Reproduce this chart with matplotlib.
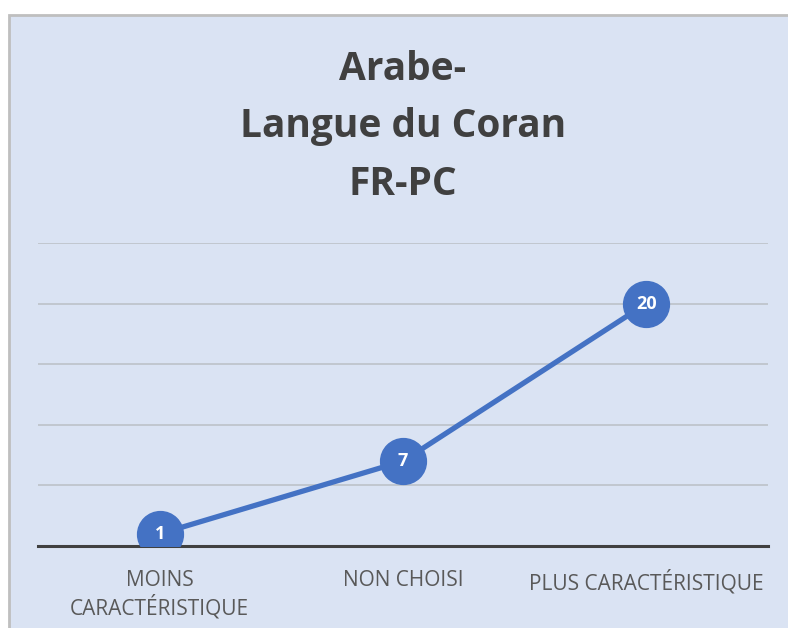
import matplotlib.pyplot as plt
from matplotlib.patches import Rectangle

# Data
categories = ['MOINS\nCARACTÉRISTIQUE', 'NON CHOISI', 'PLUS CARACTÉRISTIQUE']
values = [1, 7, 20]
title = 'Arabe-\nLangue du Coran\nFR-PC'

bg = '#DAE3F3'
blue = '#4472C4'
text_grey = '#595959'

plt.rcParams['font.family'] = ['Open Sans', 'DejaVu Sans']

fig = plt.figure(figsize=(7.88, 6.28), dpi=100)
fig.patch.set_facecolor('white')

# chart area background with a grey frame
fig.patches.append(Rectangle((9 / 788, -0.05), 1.0, 1.05 - 15 / 628,
                             transform=fig.transFigure, facecolor=bg,
                             edgecolor='#BFBFBF', lw=2, zorder=-1))

ax = fig.add_axes([38 / 788, 82 / 628, 730 / 788, 303 / 628])
ax.set_facecolor('none')

x = list(range(len(categories)))
ax.plot(x, values, color=blue, lw=3.8, zorder=3, solid_capstyle='round')
ax.plot(x, values, 'o', color=blue, markersize=33, zorder=4)
for xi, v in zip(x, values):
    ax.text(xi, v, str(v), ha='center', va='center', color='white',
            fontsize=13, fontweight='bold', zorder=5)

ax.set_xlim(-0.5, len(categories) - 0.5)
ax.set_ylim(0, 25)
ax.set_yticks([0, 5, 10, 15, 20, 25])
ax.yaxis.grid(True, color='#BFC4CC', lw=1.3)
ax.set_axisbelow(True)
ax.tick_params(axis='y', left=False, labelleft=False)
ax.tick_params(axis='x', length=0, pad=17)
ax.set_xticks(x)
ax.set_xticklabels(categories, fontsize=15, color=text_grey, linespacing=1.22)
for s in ['top', 'right', 'left']:
    ax.spines[s].set_visible(False)
ax.spines['bottom'].set_color('#404040')
ax.spines['bottom'].set_linewidth(2.2)
ax.spines['bottom'].set_zorder(2)

fig.text(403 / 788, 1 - 127 / 628, title, ha='center', va='center',
         fontsize=28, fontweight='bold', color='#404040', linespacing=1.62)

fig.savefig('out.png', dpi=100)
